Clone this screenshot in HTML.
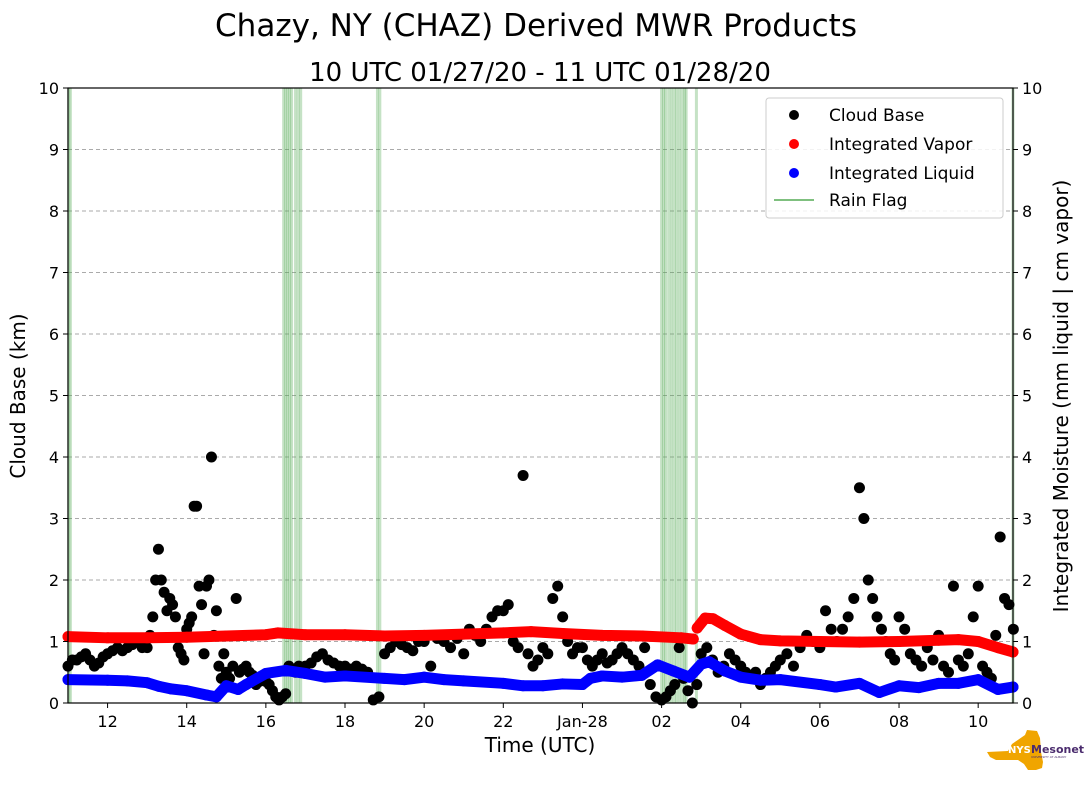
<!DOCTYPE html>
<html><head><meta charset="utf-8">
<style>
html,body{margin:0;padding:0;background:#fff;}
body{width:1089px;height:804px;overflow:hidden;font-family:"Liberation Sans","DejaVu Sans",sans-serif;}
svg text{font-family:"DejaVu Sans","Liberation Sans",sans-serif;}
</style></head>
<body>
<svg id="chart" width="1089" height="804" xmlns="http://www.w3.org/2000/svg">
<text x="536" y="36" font-size="31" text-anchor="middle">Chazy, NY (CHAZ) Derived MWR Products</text>
<text x="540" y="81" font-size="26" text-anchor="middle">10 UTC 01/27/20 - 11 UTC 01/28/20</text>
<g id="grid"></g>
<g id="rain"></g>
<g id="cb"></g>
<g id="vap"></g>
<g id="liq"></g>
<rect x="68" y="88" width="945" height="615" fill="none" stroke="#000" stroke-width="1.2"/>
<g id="axes"></g>
<text x="540" y="752" font-size="20" text-anchor="middle">Time (UTC)</text>
<text transform="translate(25,396) rotate(-90)" font-size="20" text-anchor="middle">Cloud Base (km)</text>
<text transform="translate(1068,396) rotate(-90)" font-size="20" text-anchor="middle">Integrated Moisture (mm liquid | cm vapor)</text>
<g>
<rect x="766" y="98" width="237" height="120" rx="3" fill="#fff" fill-opacity="0.85" stroke="#ccc"/>
<g><circle cx="794" cy="115" r="5" fill="#000"/><text x="829" y="121" font-size="17">Cloud Base</text></g>
<g><circle cx="794" cy="144" r="5" fill="red"/><text x="829" y="150" font-size="17">Integrated Vapor</text></g>
<g><circle cx="794" cy="173" r="5" fill="blue"/><text x="829" y="179" font-size="17">Integrated Liquid</text></g>
<g><line x1="774" y1="200" x2="814" y2="200" stroke="#7fc07f" stroke-width="2"/><text x="829" y="206" font-size="17">Rain Flag</text></g>
</g>
<g>
<polygon points="987,752 1008,751 1012,744 1025,735 1027,730 1037,731 1040,738 1041,752 1043,762 1042,768 1036,770 1028,770 1024,764 1018,760 996,760 990,757" fill="#f0a500"/>
<text x="1008" y="753" font-size="10" font-weight="bold" fill="#fff" font-family="Liberation Sans">NYS</text>
<text x="1031" y="753" font-size="11" font-weight="bold" fill="#4b2c6e" font-family="Liberation Sans">Mesonet</text>
<text x="1031" y="758" font-size="3" fill="#4b2c6e" font-family="Liberation Sans">UNIVERSITY AT ALBANY</text>
</g>
</svg>
<script>
// ---- data ----
const xTickHours = [12,14,16,18,20,22,24,26,28,30,32,34];
const xTickLabels = ["12","14","16","18","20","22","Jan-28","02","04","06","08","10"];
const yTicks = [0,1,2,3,4,5,6,7,8,9,10];
const rainFlagHours = [11.02,11.06,16.45,16.5,16.55,16.6,16.65,16.75,16.82,16.88,18.82,18.88,26.0,26.05,26.1,26.18,26.25,26.32,26.38,26.45,26.52,26.58,26.62,26.88,34.88];
const vaporHours = [11,12,13,14,15,16,16.3,17,18,19,20,21,22,22.7,23.5,24.5,25.5,26.5,26.8,26.9,27.1,27.3,27.6,28,28.5,29,30,31,32,33,33.5,34,34.5,34.88];
const vaporValues = [1.08,1.06,1.06,1.07,1.09,1.11,1.14,1.11,1.11,1.09,1.1,1.12,1.14,1.16,1.13,1.1,1.09,1.06,1.04,1.22,1.38,1.37,1.26,1.12,1.03,1.01,1.0,0.99,1.0,1.02,1.03,1.0,0.9,0.83];
const liquidHours = [11,12,12.5,13,13.3,13.6,14,14.5,14.75,15,15.3,15.5,16,16.5,17,17.5,18,19,19.5,20,20.5,21,22,22.5,23,23.5,24,24.2,24.5,25,25.5,25.9,26.3,26.7,27.0,27.2,27.6,28,28.5,29,30,30.4,31,31.5,32,32.5,33,33.5,34,34.5,34.88];
const liquidValues = [0.38,0.37,0.36,0.33,0.27,0.23,0.2,0.13,0.1,0.28,0.22,0.3,0.48,0.53,0.48,0.42,0.44,0.4,0.38,0.42,0.38,0.36,0.32,0.28,0.28,0.31,0.3,0.4,0.44,0.42,0.45,0.62,0.52,0.42,0.63,0.67,0.52,0.42,0.37,0.38,0.3,0.26,0.32,0.17,0.28,0.25,0.32,0.32,0.38,0.22,0.26];
const cloudBaseGroups = [
 {h:11,v:[0.6,0.7,0.7,0.75,0.8,0.7,0.6,0.65,0.75]},
 {h:12,v:[0.8,0.85,0.9,0.85,0.9,0.95,1.0,0.9]},
 {h:13,v:[0.9,1.1,1.4,2.0,2.5,2.0,1.8,1.5,1.7,1.6,1.4,0.9,0.8,0.7]},
 {h:14,v:[1.2,1.3,1.4,3.2,3.2,1.9,1.6,0.8,1.9,2.0,4.0,1.1,1.5,0.6,0.4,0.8]},
 {h:15,v:[0.5,0.4,0.6,1.7,0.5,0.55,0.6,0.5,0.45,0.3,0.35,0.4]},
 {h:16,v:[0.35,0.3,0.2,0.1,0.05,0.1,0.15,0.6,0.55,0.5,0.6,0.55]},
 {h:17,v:[0.6,0.65,0.75,0.8,0.7,0.65,0.6]},
 {h:18,v:[0.6,0.55,0.6,0.55,0.5,0.05,0.1]},
 {h:19,v:[0.8,0.9,1.0,0.95,0.9,0.85,1.0]},
 {h:20,v:[1.0,0.6,1.05,1.0,0.9,1.05]},
 {h:21,v:[0.8,1.2,1.1,1.0,1.2,1.4,1.5]},
 {h:22,v:[1.5,1.6,1.0,0.9,3.7,0.8,0.6,0.7]},
 {h:23,v:[0.9,0.8,1.7,1.9,1.4,1.0,0.8,0.9]},
 {h:24,v:[0.9,0.7,0.6,0.7,0.8,0.65,0.7,0.8]},
 {h:25,v:[0.9,0.8,0.7,0.6,0.9,0.3,0.1]},
 {h:26,v:[0.05,0.1,0.2,0.3,0.9,0.4,0.2,0.0,0.3]},
 {h:27,v:[0.8,0.9,0.7,0.5,0.6,0.8,0.7]},
 {h:28,v:[0.6,0.5,0.4,0.5,0.3,0.4,0.5,0.6]},
 {h:29,v:[0.7,0.8,0.6,0.9,1.1,1.0]},
 {h:30,v:[0.9,1.5,1.2,1.0,1.2,1.4,1.7]},
 {h:31,v:[3.5,3.0,2.0,1.7,1.4,1.2,1.0,0.8,0.7]},
 {h:32,v:[1.4,1.2,0.8,0.7,0.6,0.9,0.7]},
 {h:33,v:[1.1,0.6,0.5,1.9,0.7,0.6,0.8,1.4]},
 {h:34,v:[1.9,0.6,0.5,0.4,1.1,2.7,1.7,1.6,1.2]}
];
// ---- axes ----
const X0=68,X1=1013,Y0=703,Y1=88,H0=11.0,H1=34.88;
const xs=h=>X0+(h-H0)/(H1-H0)*(X1-X0);
const ys=v=>Y0-v/10*(Y0-Y1);
const NS="http://www.w3.org/2000/svg";
function mk(tag,attrs,parent){const e=document.createElementNS(NS,tag);for(const k in attrs)e.setAttribute(k,attrs[k]);parent.appendChild(e);return e;}
const grid=document.getElementById('grid'),axes=document.getElementById('axes');
yTicks.forEach(t=>{
 const y=ys(t);
 if(t>0&&t<10){const l=mk('line',{x1:X0,x2:X1,y1:y,y2:y,stroke:'#aaa','stroke-dasharray':'4,3','stroke-width':1},grid);
 }
 mk('line',{x1:X0-5,x2:X0,y1:y,y2:y,stroke:'#000'},axes);
 mk('line',{x1:X1,x2:X1+5,y1:y,y2:y,stroke:'#000'},axes);
 const a=mk('text',{x:X0-9,y:y+6,'font-size':16,'text-anchor':'end'},axes);a.textContent=t;
 
 const b=mk('text',{x:X1+9,y:y+6,'font-size':16},axes);b.textContent=t;
 
});
xTickHours.forEach((h,i)=>{
 const x=xs(h);
 mk('line',{x1:x,x2:x,y1:Y0,y2:Y0+5,stroke:'#000'},axes);
 const t=mk('text',{x:x,y:Y0+24,'font-size':16,'text-anchor':'middle'},axes);t.textContent=xTickLabels[i];
 
});
const rain=document.getElementById('rain');
rainFlagHours.forEach(h=>{
 const l=mk('line',{x1:xs(h),x2:xs(h),y1:Y1,y2:Y0,stroke:'#5aab5a','stroke-opacity':0.35,'stroke-width':3},rain);
 
});
const cb=document.getElementById('cb');
cloudBaseGroups.forEach(g=>{g.v.forEach((v,i)=>{
 const c=mk('circle',{cx:xs(g.h+i/g.v.length),cy:ys(v),r:5.5,fill:'#000'},cb);
 
});});
function series(hours,vals,color,parent,name,breakAt){
 const pts=vals.map((v,i)=>[xs(hours[i]),ys(v)]);
 let segs=[[]];
 hours.forEach((h,i)=>{ if(breakAt!==undefined && i>0 && hours[i-1]<breakAt && h>breakAt) segs.push([]); segs[segs.length-1].push(pts[i]); });
 segs.forEach(s=>{
  const p=mk('polyline',{points:s.map(q=>q.join(',')).join(' '),fill:'none',stroke:color,'stroke-width':11,'stroke-linejoin':'round','stroke-linecap':'round'},parent);
  
 });
 pts.forEach(q=>{const c=mk('circle',{cx:q[0],cy:q[1],r:5.5,fill:color},parent);
 });
}
series(vaporHours,vaporValues,'red',document.getElementById('vap'),'vapor',26.85);
series(liquidHours,liquidValues,'blue',document.getElementById('liq'),'liquid');
</script>
</body></html>
